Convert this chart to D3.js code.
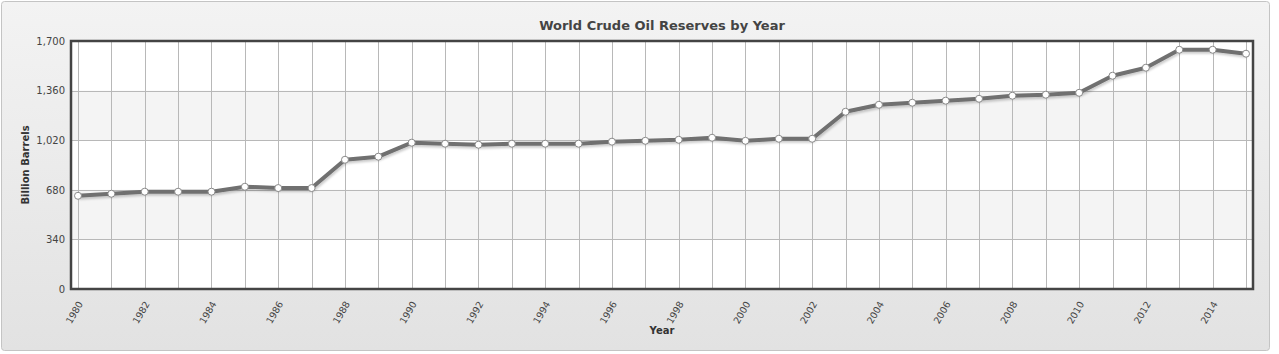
<!DOCTYPE html>
<html>
<head>
<meta charset="utf-8">
<script src="https://cdn.jsdelivr.net/npm/d3@7"></script>
<style>
	body { margin: 0; background: #fff; }
	text { font-family: "DejaVu Sans", Verdana, sans-serif; }
</style>
</head>
<body>
<div id="chart01"></div>
<script>
// data
var years = d3.range(1980, 2016);
var reserves = [
	639, 653, 667, 667, 667, 701, 692, 692, 886, 907,
	1003, 996, 989, 996, 996, 996, 1010, 1016, 1023, 1037,
	1016, 1030, 1030, 1215, 1263, 1277, 1291, 1304, 1325, 1332,
	1345, 1462, 1517, 1640, 1640, 1613
];
var yTicks = [0, 340, 680, 1020, 1360, 1700];
var xTicks = d3.range(1980, 2016, 2);

var data = years.map((y, i) => ({ year: y, value: reserves[i] }));

var width = 1279, height = 354;
var margin = { top: 41, right: 26, bottom: 65, left: 71 };
var plotRight = 1253;
var plotBottom = 289;

var svg = d3.select("#chart01").append("svg")
	.attr("width", width)
	.attr("height", height);

var defs = svg.append("defs");
var grad = defs.append("linearGradient")
	.attr("id", "bg").attr("x1", 0).attr("x2", 0).attr("y1", 0).attr("y2", 1);
grad.append("stop").attr("offset", "0%").attr("stop-color", "#f3f3f3");
grad.append("stop").attr("offset", "100%").attr("stop-color", "#e2e2e2");

var shadow = defs.append("filter").attr("id", "shadow")
	.attr("x", "-5%").attr("y", "-50%").attr("width", "110%").attr("height", "200%");
shadow.append("feDropShadow")
	.attr("dx", 1).attr("dy", 2).attr("stdDeviation", 1.3)
	.attr("flood-color", "#000").attr("flood-opacity", 0.2);

// outer frame
svg.append("rect")
	.attr("x", 1.5).attr("y", 1.5)
	.attr("width", 1268).attr("height", 349)
	.attr("rx", 3)
	.attr("fill", "url(#bg)")
	.attr("stroke", "#c4c4c4");

var x = d3.scaleLinear()
	.domain([1980, 2015])
	.range([margin.left + 7, plotRight - 7]);
var y = d3.scaleLinear()
	.domain([0, 1700])
	.range([plotBottom, margin.top]);

// plot background with alternating bands
svg.append("rect")
	.attr("x", margin.left).attr("y", margin.top)
	.attr("width", plotRight - margin.left).attr("height", plotBottom - margin.top)
	.attr("fill", "#fff");
for (var i = 0; i < yTicks.length - 1; i++) {
	if (i % 2 == 1) {
		svg.append("rect")
			.attr("x", margin.left)
			.attr("y", y(yTicks[i + 1]))
			.attr("width", plotRight - margin.left)
			.attr("height", y(yTicks[i]) - y(yTicks[i + 1]))
			.attr("fill", "#f4f4f4");
	}
}

// grid lines
svg.append("g")
	.selectAll("line")
	.data(yTicks)
	.enter().append("line")
	.attr("x1", margin.left).attr("x2", plotRight)
	.attr("y1", (d) => Math.round(y(d)) + 0.5)
	.attr("y2", (d) => Math.round(y(d)) + 0.5)
	.attr("stroke", "#b8b8b8");
svg.append("g")
	.selectAll("line")
	.data(years)
	.enter().append("line")
	.attr("x1", (d) => Math.round(x(d)) + 0.5)
	.attr("x2", (d) => Math.round(x(d)) + 0.5)
	.attr("y1", margin.top).attr("y2", plotBottom)
	.attr("stroke", "#b8b8b8");

// y axis
var yAxis = svg.append("g")
	.attr("transform", `translate(${margin.left},0)`)
	.call(d3.axisLeft(y).tickValues(yTicks).tickSize(0).tickPadding(6).tickFormat(d3.format(",")));
yAxis.select(".domain").remove();
yAxis.selectAll("text").attr("font-size", "10px").attr("fill", "#444")
	.style("font-family", "'DejaVu Sans', Verdana, sans-serif");

// x axis
var xAxis = svg.append("g")
	.attr("transform", `translate(0,${plotBottom})`)
	.call(d3.axisBottom(x).tickValues(xTicks).tickSize(0).tickFormat(d3.format("d")));
xAxis.select(".domain").remove();
xAxis.selectAll("text")
	.attr("font-size", "9.5px").attr("fill", "#444")
	.style("font-family", "'DejaVu Sans', Verdana, sans-serif")
	.attr("text-anchor", "end")
	.attr("y", 0)
	.attr("dy", "0.35em")
	.attr("transform", "translate(2,13) rotate(-60)");

// plot border
svg.append("rect")
	.attr("x", margin.left).attr("y", margin.top)
	.attr("width", plotRight - margin.left).attr("height", plotBottom - margin.top)
	.attr("fill", "none")
	.attr("stroke", "#444")
	.attr("stroke-width", 2.5);

// line
var line = d3.line()
	.x((d) => x(d.year))
	.y((d) => y(d.value));
svg.append("path")
	.datum(data)
	.attr("d", line)
	.attr("fill", "none")
	.attr("stroke", "#707070")
	.attr("stroke-width", 4)
	.attr("stroke-linejoin", "round")
	.attr("filter", "url(#shadow)");

svg.append("g")
	.selectAll("circle")
	.data(data)
	.enter().append("circle")
	.attr("cx", (d) => x(d.year))
	.attr("cy", (d) => y(d.value))
	.attr("r", 3.5)
	.attr("fill", "#fff")
	.attr("stroke", "#8a8a8a")
	.attr("stroke-width", 1);

// title
svg.append("text")
	.attr("x", (margin.left + plotRight) / 2)
	.attr("y", 30)
	.attr("text-anchor", "middle")
	.attr("font-size", "13px")
	.attr("font-weight", "bold")
	.attr("fill", "#444")
	.text("World Crude Oil Reserves by Year");

// axis labels
svg.append("text")
	.attr("x", (margin.left + plotRight) / 2)
	.attr("y", 334)
	.attr("text-anchor", "middle")
	.attr("font-size", "10px")
	.attr("font-weight", "bold")
	.attr("fill", "#333")
	.text("Year");
svg.append("text")
	.attr("transform", "rotate(-90)")
	.attr("x", -(margin.top + plotBottom) / 2)
	.attr("y", 29)
	.attr("text-anchor", "middle")
	.attr("font-size", "10px")
	.attr("font-weight", "bold")
	.attr("fill", "#333")
	.text("Billion Barrels");
</script>
</body>
</html>
